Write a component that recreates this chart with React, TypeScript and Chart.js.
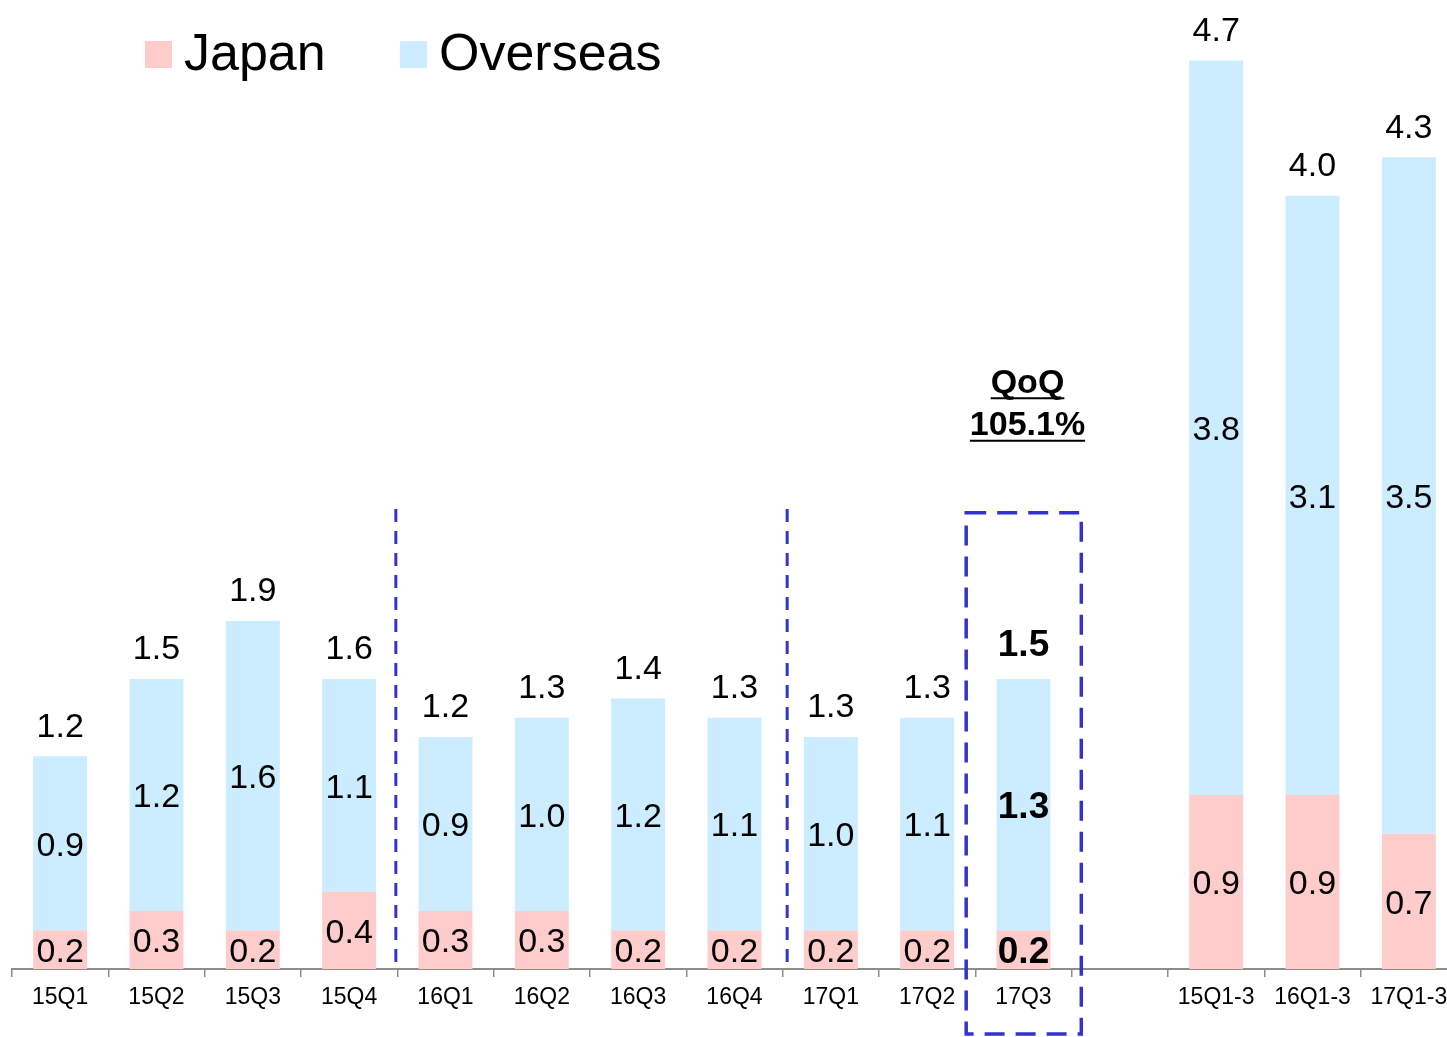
import React, { useEffect, useRef } from "react";
import { Chart, registerables } from "chart.js";

Chart.register(...registerables);

const categories = ["15Q1", "15Q2", "15Q3", "15Q4", "16Q1", "16Q2", "16Q3", "16Q4", "17Q1", "17Q2", "17Q3", "", "15Q1-3", "16Q1-3", "17Q1-3"];
const japan = [0.2, 0.3, 0.2, 0.4, 0.3, 0.3, 0.2, 0.2, 0.2, 0.2, 0.2, null, 0.9, 0.9, 0.7];
const overseas = [0.9, 1.2, 1.6, 1.1, 0.9, 1.0, 1.2, 1.1, 1.0, 1.1, 1.3, null, 3.8, 3.1, 3.5];
const totals = [1.2, 1.5, 1.9, 1.6, 1.2, 1.3, 1.4, 1.3, 1.3, 1.3, 1.5, null, 4.7, 4.0, 4.3];
const seriesNames = ["Japan", "Overseas"];
const seriesColors = ["#FFCCCC", "#CCECFF"];
const highlightIndex = 10;
const dividerAfter = [3, 7];
const qoqLines = ["QoQ", "105.1%"];

const FF = '"Liberation Sans", Arial, Helvetica, sans-serif';
const ACCENT = "#3333CC";

export default function App() {
  const ref = useRef<HTMLCanvasElement>(null);

  useEffect(() => {
    const canvas = ref.current;
    if (!canvas) return;

    const annotate = {
      id: "annotate",
      afterDatasetsDraw(chart: any) {
        const ctx = chart.ctx as CanvasRenderingContext2D;
        const xs = chart.scales.x;
        const ys = chart.scales.y;
        const cat = xs.width / categories.length;
        ctx.save();
        ctx.fillStyle = "#000";
        ctx.textAlign = "center";
        ctx.textBaseline = "middle";

        // segment labels
        [0, 1].forEach((di) => {
          const meta = chart.getDatasetMeta(di);
          meta.data.forEach((el: any, i: number) => {
            const v = chart.data.datasets[di].data[i];
            if (v == null) return;
            const bold = i === highlightIndex;
            ctx.font = `${bold ? "bold 37px" : "34px"} ${FF}`;
            ctx.fillText((v as number).toFixed(1), el.x, (el.y + el.base) / 2 + 3);
          });
        });

        // totals
        const topMeta = chart.getDatasetMeta(1);
        totals.forEach((t, i) => {
          if (t == null) return;
          const el: any = topMeta.data[i];
          const bold = i === highlightIndex;
          ctx.font = `${bold ? "bold 37px" : "34px"} ${FF}`;
          ctx.fillText(t.toFixed(1), el.x, el.y - (bold ? 33 : 29));
        });

        // dashed dividers
        ctx.strokeStyle = ACCENT;
        ctx.lineWidth = 3;
        ctx.setLineDash([13, 9]);
        dividerAfter.forEach((d, k) => {
          const x = (xs.getPixelForValue(d) + xs.getPixelForValue(d + 1)) / 2 + (k === 0 ? -1.5 : 4.5);
          ctx.beginPath();
          ctx.moveTo(x, ys.getPixelForValue(2.38));
          ctx.lineTo(x, ys.getPixelForValue(0));
          ctx.stroke();
        });

        // highlight rectangle
        const cx = xs.getPixelForValue(highlightIndex);
        ctx.lineWidth = 3.5;
        ctx.setLineDash([20, 11]);
        const rl = cx - 0.595 * cat;
        const rr = cx + 0.6 * cat;
        const rt = ys.getPixelForValue(2.36);
        const rb = ys.getPixelForValue(0) + 65;
        ctx.strokeRect(rl, rt, rr - rl, rb - rt);
        ctx.setLineDash([]);

        // QoQ annotation
        ctx.font = `bold 34px ${FF}`;
        ctx.lineWidth = 2;
        ctx.strokeStyle = "#000";
        const qy = [ys.getPixelForValue(3.03), ys.getPixelForValue(2.81)];
        qoqLines.forEach((s, k) => {
          const w = ctx.measureText(s).width;
          const x = cx + 4;
          ctx.fillText(s, x, qy[k]);
          const uy = qy[k] + 15;
          ctx.beginPath();
          ctx.moveTo(x - w / 2, uy);
          ctx.lineTo(x + w / 2, uy);
          ctx.stroke();
        });

        // legend
        ctx.font = `52px ${FF}`;
        ctx.textAlign = "left";
        const legendX = [145, 400];
        seriesNames.forEach((n, k) => {
          ctx.fillStyle = seriesColors[k];
          ctx.fillRect(legendX[k], 41, 27, 27);
          ctx.fillStyle = "#000";
          ctx.fillText(n, legendX[k] + 39, 56);
        });
        ctx.restore();
      },
    };

    const chart = new Chart(canvas, {
      type: "bar",
      data: {
        labels: categories,
        datasets: seriesNames.map((n, k) => ({
          label: n,
          data: k === 0 ? japan : overseas,
          backgroundColor: seriesColors[k],
          borderWidth: 0,
          barPercentage: 0.56,
          categoryPercentage: 1.0,
        })),
      },
      options: {
        responsive: false,
        animation: false,
        layout: { padding: { left: 12, right: 13, top: 2.5, bottom: 0 } },
        plugins: { legend: { display: false }, tooltip: { enabled: false } },
        scales: {
          x: {
            stacked: true,
            offset: true,
            grid: {
              display: true,
              drawOnChartArea: false,
              drawTicks: true,
              tickLength: 8,
              color: "#8c8c8c",
              lineWidth: 1.5,
              offset: true,
            },
            border: { display: true, color: "#8c8c8c", width: 2 },
            ticks: {
              color: "#000",
              font: { size: 23, family: FF },
              padding: 7,
              maxRotation: 0,
              autoSkip: false,
            },
            afterFit: (s: any) => {
              s.height = 68;
            },
          },
          y: { stacked: true, display: false, min: 0, max: 5 },
        },
      },
      plugins: [annotate],
    } as any);

    return () => chart.destroy();
  }, []);

  return (
    <div style={{ position: "absolute", left: 0, top: 0, width: 1447, height: 1037, overflow: "hidden", background: "#fff" }}>
      <canvas ref={ref} width={1470} height={1037} style={{ display: "block" }} />
    </div>
  );
}
